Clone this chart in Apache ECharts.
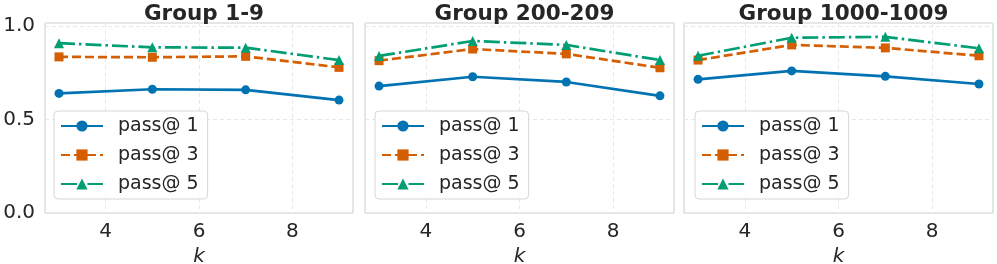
<!DOCTYPE html>
<html>
<head>
<meta charset="utf-8">
<script src="https://cdn.jsdelivr.net/npm/echarts@6/dist/echarts.min.js"></script>
<style>
html,body{margin:0;padding:0;background:#fff;}
#c{width:997px;height:264px;}
</style>
</head>
<body>
<div id="c"></div>
<script>
const kValues = [3, 5, 7, 9];
const xTicks = [4, 6, 8];
const groupTitles = ['Group 1-9', 'Group 200-209', 'Group 1000-1009'];
const seriesNames = ['pass@ 1', 'pass@ 3', 'pass@ 5'];

const g1Pass1 = [0.639, 0.661, 0.658, 0.603];
const g1Pass3 = [0.834, 0.832, 0.837, 0.778];
const g1Pass5 = [0.907, 0.885, 0.883, 0.817];

const g2Pass1 = [0.678, 0.728, 0.700, 0.626];
const g2Pass3 = [0.814, 0.876, 0.850, 0.776];
const g2Pass5 = [0.839, 0.919, 0.898, 0.817];

const g3Pass1 = [0.714, 0.759, 0.730, 0.689];
const g3Pass3 = [0.817, 0.898, 0.882, 0.840];
const g3Pass5 = [0.840, 0.936, 0.941, 0.880];

const groups = [
  [g1Pass1, g1Pass3, g1Pass5],
  [g2Pass1, g2Pass3, g2Pass5],
  [g3Pass1, g3Pass3, g3Pass5]
];

const FONT = 'DejaVu Sans';
const TXT = '#262626';
const colors = ['#0173b2', '#d55e00', '#029e73'];
const symbols = ['circle', 'rect', 'triangle'];
const symbolSizes = [9, 9, 10];
const dashes = ['solid', [9, 4], [16, 4, 2.5, 4]];

const grids = [
  {left: 45, top: 23, width: 308, height: 190},
  {left: 365, top: 23, width: 309, height: 190},
  {left: 684, top: 23, width: 309, height: 190}
];
const legendPos = [54, 375, 695];

const chart = echarts.init(document.getElementById('c'), null, {renderer: 'canvas'});

const option = {
  backgroundColor: '#fff',
  animation: false,
  textStyle: {fontFamily: FONT, color: TXT},
  title: grids.map((g, i) => ({
    text: groupTitles[i],
    left: g.left + g.width / 2,
    top: -2,
    textAlign: 'center',
    textStyle: {fontFamily: FONT, fontSize: 21.5, fontWeight: 'bold', color: TXT}
  })),
  grid: grids.map(g => ({
    left: g.left, top: g.top, width: g.width, height: g.height,
    containLabel: false, outerBoundsMode: 'none',
    show: true, borderColor: '#cccccc', borderWidth: 1, backgroundColor: '#fff'
  })),
  legend: legendPos.map(x => ({
    data: seriesNames,
    orient: 'vertical',
    left: x,
    top: 111,
    itemWidth: 42,
    itemHeight: 14,
    itemGap: 9,
    padding: [5, 9, 5, 6],
    backgroundColor: 'rgba(255,255,255,0.8)',
    borderColor: '#d6d6d6',
    borderWidth: 1,
    borderRadius: 4,
    selectedMode: false,
    textStyle: {fontFamily: FONT, fontSize: 19, color: TXT, lineHeight: 20, padding: [0, 0, 0, 10]}
  })),
  xAxis: grids.map((g, i) => ({
    type: 'value',
    gridIndex: i,
    min: 2.7,
    max: 9.3,
    name: 'k',
    nameLocation: 'middle',
    nameGap: 32,
    nameTextStyle: {fontFamily: FONT, fontSize: 20, fontStyle: 'italic', color: TXT},
    axisLine: {show: false},
    axisTick: {show: false, customValues: xTicks},
    axisLabel: {customValues: xTicks, fontFamily: FONT, fontSize: 20, color: TXT, margin: 9},
    splitLine: {show: true, lineStyle: {color: '#e8e8e8', type: [4, 3], width: 1}}
  })),
  yAxis: grids.map((g, i) => ({
    type: 'value',
    gridIndex: i,
    min: 0,
    max: 1.015,
    interval: 0.5,
    axisLine: {show: false},
    axisTick: {show: false},
    axisLabel: {
      show: i === 0,
      fontFamily: FONT, fontSize: 20, color: TXT, margin: 10,
      formatter: v => (Math.abs(v * 2 - Math.round(v * 2)) < 1e-6 ? v.toFixed(1) : '')
    },
    splitLine: {show: true, lineStyle: {color: '#e8e8e8', type: [4, 3], width: 1}}
  })),
  series: []
};

groups.forEach((grp, gi) => {
  grp.forEach((vals, si) => {
    option.series.push({
      type: 'line',
      name: seriesNames[si],
      xAxisIndex: gi,
      yAxisIndex: gi,
      data: kValues.map((k, j) => [k, vals[j]]),
      symbol: symbols[si],
      symbolSize: symbolSizes[si],
      showSymbol: true,
      color: colors[si],
      itemStyle: {color: colors[si]},
      lineStyle: {color: colors[si], width: 2.7, type: dashes[si]},
      z: 3 + si
    });
  });
});

chart.setOption(option);
</script>
</body>
</html>
